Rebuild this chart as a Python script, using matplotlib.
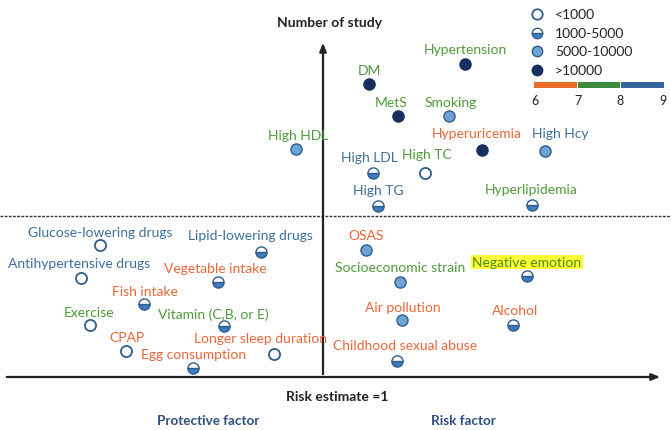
import matplotlib.pyplot as plt
from matplotlib.patches import Rectangle

plt.rcParams['font.family'] = ['Lato', 'DejaVu Sans']

# factor names, colour group, study size class
factors = ["Hypertension", "DM", "MetS", "Smoking", "High HDL", "Hyperuricemia", "High Hcy",
           "High LDL", "High TC", "High TG", "Hyperlipidemia",
           "Glucose-lowering drugs", "Lipid-lowering drugs", "Antihypertensive drugs",
           "Vegetable intake", "Fish intake", "Exercise", "Vitamin (C,B, or E)", "CPAP",
           "Longer sleep duration", "Egg consumption",
           "OSAS", "Socioeconomic strain", "Negative emotion", "Air pollution", "Alcohol",
           "Childhood sexual abuse"]
groups = ["g", "g", "g", "g", "g", "o", "b",
          "b", "g", "b", "g",
          "b", "b", "b",
          "o", "o", "g", "g", "o",
          "o", "o",
          "o", "g", "g", "o", "o",
          "o"]
size_class = [3, 3, 3, 2, 2, 3, 2,
              1, 0, 1, 1,
              0, 1, 0,
              1, 1, 0, 1, 0,
              0, 1,
              2, 2, 1, 2, 1,
              1]
# position on the diagram (risk estimate axis, number of study axis)
risk_x = [465, 369, 398, 449, 296, 482, 545,
          373, 425, 378, 532,
          100, 261, 81,
          218, 144, 90, 224, 126,
          274, 193,
          366, 400, 527, 402, 513,
          397]
study_y = [65, 85, 117, 117, 150, 151, 152,
           174, 174, 207, 206,
           246, 253, 279,
           283, 305, 326, 327, 352,
           355, 369,
           251, 283, 277, 321, 326,
           362]
# label anchor offsets (dx, dy)
label_off = [(0, -15), (0, -14), (-7, -14), (2, -14), (2, -14), (-5, -17), (15, -18),
             (-4, -16), (2, -19), (0, -16), (-1, -16),
             (0, -13), (-11, -17), (-2, -15),
             (-3, -14), (1, -13), (-1, -13), (-11, -12), (1, -14),
             (-14, -16), (1, -14),
             (0, -15), (0, -15), (0, -14), (1, -13), (2, -15),
             (8, -16)]

legend_labels = ["<1000", "1000-5000", "5000-10000", ">10000"]
scale_ticks = ["6", "7", "8", "9"]

colors = {"g": "#4f9a3a", "o": "#e8673a", "b": "#3f6f9c"}
seg_colors = ["#eb6e28", "#3c8a3c", "#35679b"]
edge = "#2f5d8c"


def draw_marker(ax, x, y, cls, ms=8):
    if cls == 0:
        ax.plot(x, y, "o", ms=ms, mfc="white", mec=edge, mew=1.3)
    elif cls == 1:
        ax.plot(x, y, "o", ms=ms, fillstyle="bottom", mfc="#3f7cc0", mfcalt="white",
                mec=edge, mew=1.0)
    elif cls == 2:
        ax.plot(x, y, "o", ms=ms, mfc="#6fa3d6", mec=edge, mew=1.0)
    else:
        ax.plot(x, y, "o", ms=ms, mfc="#172f5e", mec="#172f5e", mew=1.0)


fig = plt.figure(figsize=(6.71, 4.31), dpi=100)
ax = fig.add_axes([0, 0, 1, 1])
ax.set_xlim(0, 671)
ax.set_ylim(431, 0)
ax.axis("off")

# axes arrows
ax.annotate("", xy=(663, 378), xytext=(4, 378),
            arrowprops=dict(arrowstyle="-|>,head_length=0.5,head_width=0.2", color="#222222", lw=1.6))
ax.annotate("", xy=(323, 41), xytext=(323, 378),
            arrowprops=dict(arrowstyle="-|>,head_length=0.5,head_width=0.2", color="#222222", lw=1.6))
ax.plot([0, 671], [217, 217], color="#333333", lw=1.0, ls=(0, (2, 1)))

for name, grp, cls, x, y, off in zip(factors, groups, size_class, risk_x, study_y, label_off):
    draw_marker(ax, x, y, cls)
    kw = {}
    if name == "Negative emotion":
        kw["bbox"] = dict(boxstyle="square,pad=0.1", fc="#ffff33", ec="none")
        col = "#4f8a1e"
    else:
        col = colors[grp]
    ax.text(x + off[0], y + off[1], name, color=col, fontsize=10, ha="center", va="center", **kw)

ax.text(330, 23, "Number of study", fontsize=10, fontweight="bold", ha="center", va="center", color="#222222")
ax.text(337, 397, "Risk estimate =1", fontsize=10, fontweight="bold", ha="center", va="center", color="#222222")
ax.text(208, 421, "Protective factor", fontsize=9.7, fontweight="bold", ha="center", va="center", color="#2f4f80")
ax.text(463, 421, "Risk factor", fontsize=9.7, fontweight="bold", ha="center", va="center", color="#2f4f80")

# legend
for i, lab in enumerate(legend_labels):
    ly = 15 + i * 18.7
    draw_marker(ax, 537, ly, i, ms=7.5)
    ax.text(555, ly, lab, fontsize=10, ha="left", va="center", color="#222222")

for i, c in enumerate(seg_colors):
    ax.add_patch(Rectangle((534 + i * 43.5, 83), 42.5, 6, color=c, lw=0))
for i, t in enumerate(scale_ticks):
    ax.text(535 + i * 42.7, 101, t, fontsize=9, ha="center", va="center", color="#222222")

plt.savefig("out.png")
